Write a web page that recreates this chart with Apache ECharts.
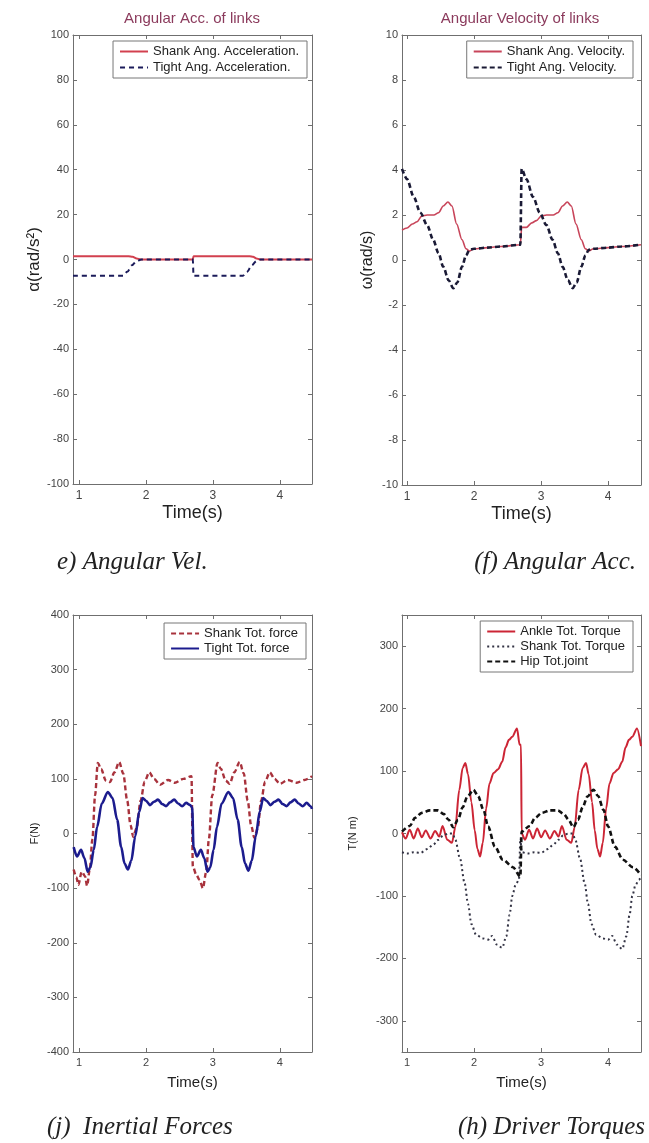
<!DOCTYPE html>
<html>
<head>
<meta charset="utf-8">
<script src="https://cdn.jsdelivr.net/npm/echarts@6/dist/echarts.min.js"></script>
<style>
html, body { margin: 0; padding: 0; background: #fff; }
#main { width: 649px; height: 1143px; }
</style>
</head>
<body>
<div id="main"></div>
<script>
// tick labels
var timeTicks = [1, 2, 3, 4];
var torqueTicks = [-300, -200, -100, 0, 100, 200, 300];

// (e) angular acceleration, [time, rad/s^2]
var shankAcc = [[0.91,1.5],[1.74,1.5],[1.80,1.2],[1.86,0.5],[1.92,0],[2.70,0],[2.71,1.5],[3.55,1.5],[3.60,1.2],[3.65,0.5],[3.70,0],[4.48,0]];
var tightAcc = [[0.91,-7.2],[1.66,-7.2],[1.72,-5.5],[1.79,-2.6],[1.86,-0.7],[1.93,0],[2.70,0],[2.71,-7.2],[3.45,-7.2],[3.51,-5.5],[3.58,-2.6],[3.65,-0.7],[3.71,0],[4.48,0]];

// (f) angular velocity, [time, rad/s]
var shankVel = [[0.925,1.33],[1.0,1.42],[1.08,1.6],[1.15,1.7],[1.22,1.95],[1.3,2.0],[1.4,2.0],[1.47,2.1],[1.54,2.4],[1.61,2.58],[1.67,2.4],[1.74,1.6],[1.82,0.9],[1.88,0.5],[1.93,0.4],[2.0,0.5],[2.2,0.55],[2.4,0.6],[2.69,0.68],[2.71,1.45],[2.78,1.45],[2.86,1.65],[2.93,1.75],[3.0,1.95],[3.08,2.0],[3.18,2.0],[3.25,2.1],[3.32,2.4],[3.39,2.58],[3.45,2.4],[3.52,1.6],[3.6,0.9],[3.66,0.5],[3.71,0.4],[3.78,0.5],[4.0,0.55],[4.2,0.6],[4.49,0.68]];
var tightVel = [[0.925,4.05],[1.0,3.6],[1.1,2.8],[1.2,2.1],[1.3,1.55],[1.39,0.9],[1.47,0.3],[1.54,-0.3],[1.62,-0.9],[1.69,-1.25],[1.75,-1.0],[1.82,-0.3],[1.88,0.2],[1.93,0.45],[2.0,0.5],[2.2,0.55],[2.4,0.6],[2.69,0.68],[2.71,4.05],[2.78,3.6],[2.88,2.8],[2.98,2.1],[3.08,1.55],[3.17,0.9],[3.25,0.3],[3.32,-0.3],[3.40,-0.9],[3.47,-1.25],[3.53,-1.0],[3.6,-0.3],[3.66,0.2],[3.71,0.45],[3.78,0.5],[4.0,0.55],[4.2,0.6],[4.49,0.68]];

// (j) inertial forces, [time, N]
var shankForce = [[0.92,-66],[0.96,-80],[0.99,-94],[1.04,-70],[1.09,-78],[1.12,-96],[1.16,-66],[1.2,-10],[1.24,70],[1.28,129],[1.33,118],[1.40,97],[1.46,94],[1.53,112],[1.60,131],[1.66,110],[1.72,60],[1.77,15],[1.81,-6],[1.86,10],[1.92,60],[1.98,95],[2.05,112],[2.12,100],[2.21,89],[2.33,98],[2.43,93],[2.56,100],[2.68,105],[2.70,-60],[2.75,-75],[2.80,-85],[2.85,-100],[2.90,-70],[2.94,-10],[2.99,70],[3.07,129],[3.12,118],[3.19,97],[3.25,91],[3.32,112],[3.40,131],[3.46,110],[3.52,60],[3.57,15],[3.62,-8],[3.67,10],[3.72,60],[3.78,95],[3.85,112],[3.92,100],[4.0,91],[4.12,98],[4.25,93],[4.37,98],[4.48,105]];
var tightForce = [[0.92,-25],[0.97,-42],[1.03,-30],[1.08,-45],[1.13,-70],[1.17,-62],[1.22,-30],[1.27,12],[1.34,55],[1.43,76],[1.5,65],[1.57,25],[1.63,-25],[1.68,-55],[1.73,-66],[1.78,-50],[1.84,-5],[1.9,40],[1.95,65],[2.0,60],[2.06,52],[2.12,58],[2.18,62],[2.24,54],[2.3,50],[2.36,57],[2.42,62],[2.48,55],[2.54,50],[2.6,56],[2.66,52],[2.69,48],[2.71,-25],[2.76,-42],[2.82,-30],[2.87,-45],[2.92,-70],[2.96,-62],[3.01,-30],[3.06,12],[3.13,55],[3.23,76],[3.3,65],[3.37,25],[3.43,-25],[3.48,-55],[3.53,-68],[3.58,-50],[3.64,-5],[3.7,40],[3.75,65],[3.8,60],[3.86,52],[3.92,58],[3.98,62],[4.04,54],[4.1,50],[4.16,57],[4.22,62],[4.28,55],[4.34,50],[4.4,56],[4.46,50],[4.48,45]];

// (h) driver torques, [time, N m]
var ankleTorque = [[0.925,2],[0.98,-8],[1.04,6],[1.1,-8],[1.16,8],[1.22,-6],[1.28,5],[1.35,-8],[1.42,4],[1.48,-5],[1.53,12],[1.6,-10],[1.67,-15],[1.72,10],[1.78,70],[1.83,105],[1.87,113],[1.91,95],[1.96,50],[2.01,5],[2.05,-25],[2.09,-37],[2.13,-15],[2.18,40],[2.23,80],[2.29,97],[2.36,103],[2.42,115],[2.47,138],[2.52,150],[2.57,155],[2.64,168],[2.68,142],[2.70,142],[2.71,0],[2.76,-10],[2.82,6],[2.88,-8],[2.94,8],[3.0,-6],[3.06,5],[3.13,-8],[3.2,4],[3.26,-5],[3.31,12],[3.38,-10],[3.45,-15],[3.5,10],[3.56,70],[3.62,105],[3.67,113],[3.71,95],[3.76,50],[3.80,5],[3.84,-25],[3.88,-37],[3.92,-15],[3.97,40],[4.02,80],[4.08,97],[4.15,103],[4.21,115],[4.26,138],[4.31,150],[4.36,155],[4.43,168],[4.49,140]];
var shankTorque = [[0.925,-30],[1.0,-32],[1.1,-30],[1.2,-31],[1.3,-25],[1.39,-18],[1.47,-10],[1.54,-3],[1.62,0],[1.68,0],[1.72,-10],[1.79,-40],[1.86,-80],[1.91,-113],[1.96,-145],[2.03,-162],[2.13,-168],[2.21,-170],[2.27,-164],[2.34,-178],[2.42,-183],[2.48,-165],[2.53,-130],[2.57,-100],[2.62,-82],[2.67,-74],[2.69,-8],[2.71,-30],[2.8,-32],[2.9,-30],[3.0,-31],[3.1,-25],[3.18,-18],[3.26,-10],[3.33,-3],[3.41,0],[3.47,0],[3.51,-10],[3.58,-40],[3.65,-80],[3.70,-113],[3.75,-145],[3.82,-162],[3.92,-168],[4.0,-170],[4.06,-164],[4.13,-178],[4.21,-185],[4.27,-165],[4.32,-130],[4.36,-100],[4.41,-82],[4.46,-74],[4.49,-70]];
var hipTorque = [[0.925,3],[1.04,12],[1.12,25],[1.22,33],[1.34,37],[1.46,37],[1.55,31],[1.62,22],[1.69,10],[1.76,22],[1.83,42],[1.9,59],[1.99,70],[2.06,60],[2.14,38],[2.21,11],[2.31,-21],[2.43,-42],[2.58,-54],[2.69,-69],[2.71,3],[2.83,12],[2.91,25],[3.01,33],[3.13,37],[3.25,37],[3.34,31],[3.41,22],[3.48,10],[3.55,22],[3.62,42],[3.69,59],[3.78,70],[3.85,60],[3.93,38],[4.0,11],[4.1,-21],[4.22,-42],[4.37,-54],[4.49,-67]];

var myChart = echarts.init(document.getElementById('main'));

var font = 'Liberation Sans';
var axisColor = '#6f6f6f';
var labelColor = '#444';

var grids = [
  { left: 73, top: 35, width: 239, height: 449 },
  { left: 402, top: 35, width: 239, height: 450 },
  { left: 73, top: 615, width: 239, height: 437 },
  { left: 402, top: 615, width: 239, height: 437 }
];

var xRange = [[0.91, 4.48], [0.925, 4.49], [0.91, 4.48], [0.925, 4.49]];
var yRange = [[-100, 100, 20], [-10, 10, 2], [-400, 400, 100], [-350, 350, null]];

var xAxes = [];
var yAxes = [];

var xNames = [
  { size: 18, gap: 20, margin: 6, labelSize: 12 },
  { size: 18, gap: 20, margin: 6, labelSize: 12 },
  { size: 15, gap: 23, margin: 5, labelSize: 11 },
  { size: 15, gap: 23, margin: 5, labelSize: 11 }
];
var yNames = [
  { text: 'α(rad/s²)', size: 17, gap: 25 },
  { text: 'ω(rad/s)', size: 16, gap: 26 },
  { text: 'F(N)', size: 11, gap: 33 },
  { text: 'T(N m)', size: 11, gap: 44 }
];

grids.forEach(function(g, i) {
  var xn = xNames[i];
  xAxes.push({
    type: 'value', gridIndex: i, position: 'bottom',
    min: xRange[i][0], max: xRange[i][1],
    name: 'Time(s)', nameLocation: 'middle', nameGap: xn.gap,
    nameTextStyle: { fontFamily: font, fontSize: xn.size, color: '#222' },
    axisLine: { onZero: false, lineStyle: { color: axisColor } },
    axisTick: { inside: true, length: 4, customValues: timeTicks, lineStyle: { color: axisColor } },
    axisLabel: { customValues: timeTicks, margin: xn.margin, fontFamily: font, fontSize: xn.labelSize, color: labelColor },
    splitLine: { show: false }
  });
  var yn = yNames[i];
  var y = {
    type: 'value', gridIndex: i, position: 'left',
    min: yRange[i][0], max: yRange[i][1],
    name: yn.text, nameLocation: 'middle', nameGap: yn.gap,
    nameTextStyle: { fontFamily: font, fontSize: yn.size, color: '#222' },
    axisLine: { onZero: false, lineStyle: { color: axisColor } },
    axisTick: { inside: true, length: 4, lineStyle: { color: axisColor } },
    axisLabel: { margin: 4, fontFamily: font, fontSize: 11, color: labelColor },
    splitLine: { show: false }
  };
  if (yRange[i][2]) {
    y.interval = yRange[i][2];
  } else {
    y.axisTick.customValues = torqueTicks;
    y.axisLabel.customValues = torqueTicks;
  }
  yAxes.push(y);
});

// mirrored box edges with inner ticks (top and right)
grids.forEach(function(g, i) {
  xAxes.push({
    type: 'value', gridIndex: i, position: 'top',
    min: xRange[i][0], max: xRange[i][1],
    axisLine: { onZero: false, lineStyle: { color: axisColor } },
    axisTick: { inside: true, length: 4, customValues: timeTicks, lineStyle: { color: axisColor } },
    axisLabel: { show: false }, splitLine: { show: false }
  });
  var y = {
    type: 'value', gridIndex: i, position: 'right',
    min: yRange[i][0], max: yRange[i][1],
    axisLine: { onZero: false, lineStyle: { color: axisColor } },
    axisTick: { inside: true, length: 4, lineStyle: { color: axisColor } },
    axisLabel: { show: false }, splitLine: { show: false }
  };
  if (yRange[i][2]) y.interval = yRange[i][2];
  else y.axisTick.customValues = torqueTicks;
  yAxes.push(y);
});

var line = function(name, data, idx, color, width, type) {
  return {
    name: name, type: 'line', data: data,
    xAxisIndex: idx, yAxisIndex: idx,
    symbol: 'none', smooth: 0.3, smoothMonotone: 'x',
    lineStyle: { color: color, width: width, type: type || 'solid' },
    itemStyle: { color: color },
    animation: false
  };
};

var series = [
  line('Shank Ang. Acceleration.', shankAcc, 0, '#d2404f', 2),
  line('Tight Ang. Acceleration.', tightAcc, 0, '#1b1b5a', 2, [5, 4]),
  line('Shank Ang. Velocity.', shankVel, 1, '#c8455a', 1.6),
  line('Tight Ang. Velocity.', tightVel, 1, '#1a1a35', 2.6, [5, 3]),
  line('Shank Tot. force', shankForce, 2, '#a8323c', 2.4, [5, 3]),
  line('Tight Tot. force', tightForce, 2, '#1c1c8e', 2.6),
  line('Ankle Tot. Torque', ankleTorque, 3, '#cc2535', 2),
  line('Shank Tot. Torque', shankTorque, 3, '#333344', 2, [2, 3]),
  line('Hip Tot.joint', hipTorque, 3, '#111111', 2.6, [5, 3])
];

var legendBase = function(names, pos, gap) {
  return Object.assign({
    data: names, orient: 'vertical',
    itemWidth: 28, itemHeight: 10, itemGap: gap,
    padding: [4, 8, 4, 6],
    borderColor: '#777', borderWidth: 1, borderRadius: 0,
    backgroundColor: '#fff',
    selectedMode: false,
    itemStyle: { opacity: 0 },
    textStyle: { fontFamily: font, fontSize: 13, color: '#222' }
  }, pos);
};

var legends = [
  legendBase(['Shank Ang. Acceleration.', 'Tight Ang. Acceleration.'], { right: 342, top: 41 }, 3),
  legendBase(['Shank Ang. Velocity.', 'Tight Ang. Velocity.'], { right: 16, top: 41 }, 3),
  legendBase(['Shank Tot. force', 'Tight Tot. force'], { right: 343, top: 623 }, 2),
  legendBase(['Ankle Tot. Torque', 'Shank Tot. Torque', 'Hip Tot.joint'], { right: 16, top: 621 }, 2)
];

var txt = function(text, x, y, f, color, align) {
  return {
    type: 'text', x: x, y: y,
    style: { text: text, font: f, fill: color, align: align || 'center', verticalAlign: 'middle' }
  };
};

var titleFont = '15px "Liberation Sans"';
var capFont = 'italic 25px "Liberation Serif"';

var graphics = [
  txt('Angular Acc. of links', 192, 19, titleFont, '#8b3a5c'),
  txt('Angular Velocity of links', 520, 19, titleFont, '#8b3a5c'),
  txt('e) Angular Vel.', 57, 562, capFont, '#222', 'left'),
  txt('(f) Angular Acc.', 636, 562, capFont, '#222', 'right'),
  txt('(j)  Inertial Forces', 47, 1127, capFont, '#222', 'left'),
  txt('(h) Driver Torques', 645, 1127, capFont, '#222', 'right')
];

var option = {
  backgroundColor: '#fff',
  animation: false,
  grid: grids,
  xAxis: xAxes,
  yAxis: yAxes,
  legend: legends,
  graphic: graphics,
  series: series
};

myChart.setOption(option);
</script>
</body>
</html>
